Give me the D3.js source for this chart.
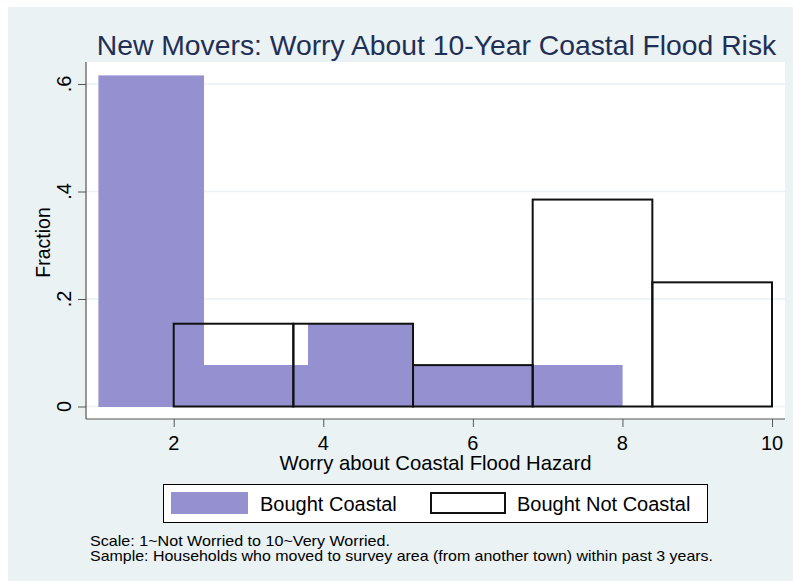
<!DOCTYPE html>
<html>
<head>
<meta charset="utf-8">
<script src="https://cdn.jsdelivr.net/npm/d3@7"></script>
<style>
  html, body { margin: 0; padding: 0; background: #ffffff; }
  svg { display: block; }
  text { font-family: "Liberation Sans", Arial, Helvetica, sans-serif; }
</style>
</head>
<body>
<svg id="chart" width="793" height="581"></svg>
<script>
// ---- Data ----
const titleText = "New Movers: Worry About 10-Year Coastal Flood Risk";
const xTitle = "Worry about Coastal Flood Hazard";
const yTitle = "Fraction";
const xTicks = [2, 4, 6, 8, 10];
const yTicks = [0, 0.2, 0.4, 0.6];
const yTickLabels = ["0", ".2", ".4", ".6"];
const seriesNames = ["Bought Coastal", "Bought Not Coastal"];
// Bought Coastal: bin edges (width 1.4) and fractions
const coastalEdges = [1, 2.4, 3.8, 5.2, 6.6, 8.0];
const coastalFractions = [0.615, 0.077, 0.154, 0.077, 0.077];
// Bought Not Coastal: bin edges (width 1.6) and fractions
const notCoastalEdges = [2, 3.6, 5.2, 6.8, 8.4, 10];
const notCoastalFractions = [0.154, 0.154, 0.077, 0.385, 0.231];
const notes = [
  "Scale: 1~Not Worried to 10~Very Worried.",
  "Sample: Households who moved to survey area (from another town) within past 3 years."
];

// ---- Layout ----
const W = 793, H = 581;
const bgColor = "#eaf2f3";
const fillColor = "#9591d1";
const titleColor = "#1f2f55";
const plot = { left: 86, right: 785, top: 62, bottom: 419 };

const svg = d3.select("#chart");

// outer background
svg.append("rect").attr("x", 8).attr("y", 7).attr("width", W - 8).attr("height", H - 7)
  .attr("fill", bgColor);

// plot region
svg.append("rect").attr("x", plot.left).attr("y", plot.top)
  .attr("width", plot.right - plot.left).attr("height", plot.bottom - plot.top)
  .attr("fill", "#ffffff");

// scales
const x = d3.scaleLinear().domain([2, 10]).range([173.7, 772]);
const y = d3.scaleLinear().domain([0, 0.6]).range([406.5, 84]);

// gridlines
svg.append("g").selectAll("line").data(yTicks).join("line")
  .attr("x1", plot.left).attr("x2", plot.right)
  .attr("y1", d => y(d)).attr("y2", d => y(d))
  .attr("stroke", bgColor).attr("stroke-width", 1.5);

// filled histogram (Bought Coastal)
const coastalBins = coastalFractions.map((v, i) => ({ x0: coastalEdges[i], x1: coastalEdges[i + 1], v }));
svg.append("g").attr("shape-rendering", "crispEdges").selectAll("rect").data(coastalBins).join("rect")
  .attr("x", d => x(d.x0)).attr("width", d => x(d.x1) - x(d.x0))
  .attr("y", d => y(d.v)).attr("height", d => y(0) - y(d.v))
  .attr("fill", fillColor).attr("stroke", fillColor).attr("stroke-width", 0.6);

// outline histogram (Bought Not Coastal)
const notBins = notCoastalFractions.map((v, i) => ({ x0: notCoastalEdges[i], x1: notCoastalEdges[i + 1], v }));
svg.append("g").selectAll("rect").data(notBins).join("rect")
  .attr("x", d => x(d.x0)).attr("width", d => x(d.x1) - x(d.x0))
  .attr("y", d => y(d.v)).attr("height", d => y(0) - y(d.v))
  .attr("fill", "none").attr("stroke", "#111").attr("stroke-width", 2);

// axes
const axisColor = "#555";
const yAxis = d3.axisLeft(y).tickValues(yTicks).tickSize(8).tickFormat("");
const gy = svg.append("g").attr("transform", `translate(${plot.left},0)`).call(yAxis);
gy.select(".domain").remove();
gy.selectAll(".tick line").attr("stroke", axisColor);
svg.append("line").attr("x1", plot.left).attr("x2", plot.left)
  .attr("y1", plot.top).attr("y2", plot.bottom).attr("stroke", axisColor).attr("stroke-width", 1.2);

const xAxis = d3.axisBottom(x).tickValues(xTicks).tickSize(8).tickFormat("");
const gx = svg.append("g").attr("transform", `translate(0,${plot.bottom})`).call(xAxis);
gx.select(".domain").remove();
gx.selectAll(".tick line").attr("stroke", axisColor);
svg.append("line").attr("x1", plot.left).attr("x2", plot.right)
  .attr("y1", plot.bottom).attr("y2", plot.bottom).attr("stroke", axisColor).attr("stroke-width", 1.2);

// tick labels
svg.append("g").selectAll("text").data(xTicks).join("text")
  .attr("x", d => x(d)).attr("y", 450)
  .attr("text-anchor", "middle").attr("font-size", 20).attr("fill", "#000")
  .text(d => d);

svg.append("g").selectAll("text").data(yTicks).join("text")
  .attr("transform", (d) => `translate(71,${y(d)}) rotate(-90)`)
  .attr("text-anchor", "middle").attr("font-size", 20).attr("fill", "#000")
  .text((d, i) => yTickLabels[i]);

// axis titles
svg.append("text").attr("x", (plot.left + plot.right) / 2).attr("y", 470)
  .attr("text-anchor", "middle").attr("font-size", 20.3).attr("fill", "#000").text(xTitle);
svg.append("text").attr("transform", `translate(50,${(plot.top + plot.bottom) / 2 + 2}) rotate(-90)`)
  .attr("text-anchor", "middle").attr("font-size", 19.5).attr("fill", "#000").text(yTitle);

// title
svg.append("text").attr("x", 436.5).attr("y", 55)
  .attr("text-anchor", "middle").attr("font-size", 28.3).attr("fill", titleColor).text(titleText);

// legend
const lg = svg.append("g");
lg.append("rect").attr("x", 163.5).attr("y", 484.5).attr("width", 544).attr("height", 38)
  .attr("fill", "#fff").attr("stroke", "#000").attr("stroke-width", 1);
lg.append("rect").attr("x", 171).attr("y", 492).attr("width", 77).attr("height", 22).attr("fill", fillColor);
lg.append("text").attr("x", 260).attr("y", 511).attr("font-size", 20).attr("fill", "#000").text(seriesNames[0]);
lg.append("rect").attr("x", 431).attr("y", 493).attr("width", 74).attr("height", 20)
  .attr("fill", "#fff").attr("stroke", "#111").attr("stroke-width", 2);
lg.append("text").attr("x", 517).attr("y", 511).attr("font-size", 20).attr("fill", "#000").text(seriesNames[1]);

// notes
const noteWidths = [300, 623];
svg.append("g").selectAll("text").data(notes).join("text")
  .attr("x", 90).attr("y", (d, i) => 545.5 + i * 15)
  .attr("font-size", 14.2).attr("fill", "#000")
  .attr("textLength", (d, i) => noteWidths[i]).attr("lengthAdjust", "spacingAndGlyphs")
  .text(d => d);
</script>
</body>
</html>
